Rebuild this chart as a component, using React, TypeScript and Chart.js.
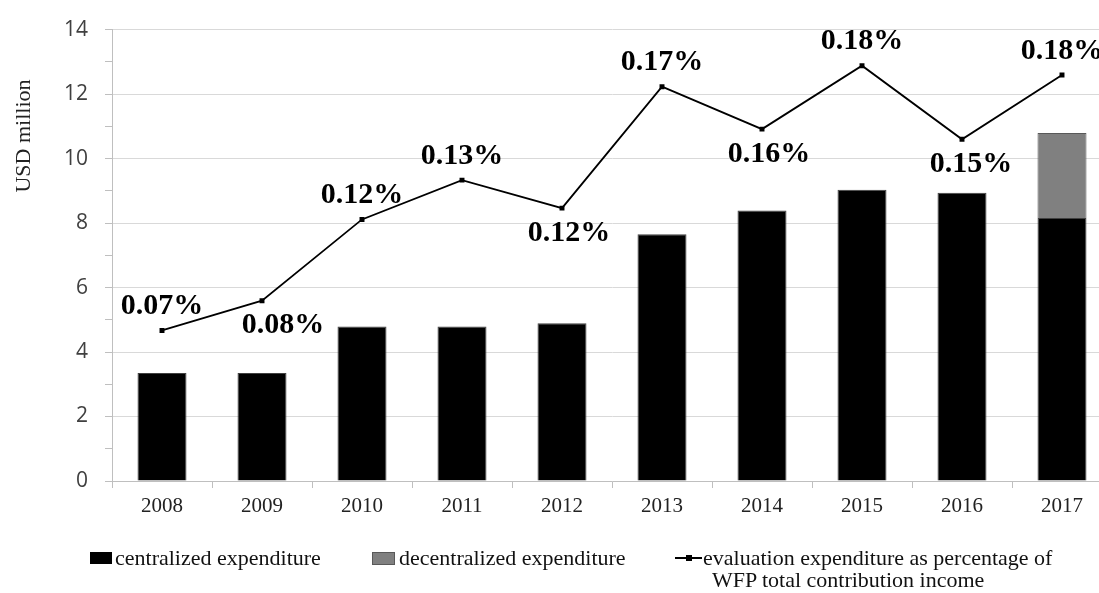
import React, { useEffect, useRef } from "react";
import { Chart, registerables } from "chart.js";

Chart.register(...registerables);

const years = ["2008", "2009", "2010", "2011", "2012", "2013", "2014", "2015", "2016", "2017"];
const centralized = [3.35, 3.35, 4.79, 4.79, 4.89, 7.65, 8.39, 9.03, 8.94, 8.16];
const decentralized = [0, 0, 0, 0, 0, 0, 0, 0, 0, 2.63];
// evaluation expenditure as % of WFP total contribution income
const evalPercent = [0.0667, 0.0799, 0.1159, 0.1333, 0.1209, 0.1747, 0.1559, 0.184, 0.1514, 0.1799];
const yTicks = [0, 2, 4, 6, 8, 10, 12, 14];

// label placement (style only)
const labelBelow = [false, true, false, false, true, false, true, false, true, false];
const labelDx = [0, 21, 0, 0, 7, 0, 7, 0, 9, 0];

const SERIF = "'Liberation Serif', 'Times New Roman', serif";

const pctLabelPlugin = {
  id: "pctLabels",
  afterDatasetsDraw(chart: any) {
    const meta = chart.getDatasetMeta(2);
    const ctx = chart.ctx;
    ctx.save();
    ctx.font = `bold 30px ${SERIF}`;
    ctx.fillStyle = "#000";
    ctx.textAlign = "center";
    ctx.textBaseline = "middle";
    meta.data.forEach((pt: any, i: number) => {
      const txt = evalPercent[i].toFixed(2) + "%";
      const dy = labelBelow[i] ? 25 : -24;
      ctx.fillText(txt, pt.x + labelDx[i], pt.y + dy);
    });
    ctx.restore();
  },
};

const yTitlePlugin = {
  id: "yTitle",
  afterDraw(chart: any) {
    const ctx = chart.ctx;
    ctx.save();
    ctx.translate(24, 136);
    ctx.rotate(-Math.PI / 2);
    ctx.font = `22px ${SERIF}`;
    ctx.fillStyle = "#222";
    ctx.textAlign = "center";
    ctx.textBaseline = "middle";
    ctx.fillText("USD million", 0, 0);
    ctx.restore();
  },
};

export default function App() {
  const ref = useRef<HTMLCanvasElement>(null);

  useEffect(() => {
    if (!ref.current) return;
    const chart = new Chart(ref.current, {
      type: "bar",
      data: {
        labels: years,
        datasets: [
          {
            type: "bar",
            label: "centralized expenditure",
            data: centralized,
            backgroundColor: "#000000",
            borderColor: "#404040",
            borderWidth: 1,
            barPercentage: 0.49,
            categoryPercentage: 1,
            stack: "exp",
            order: 2,
          },
          {
            type: "bar",
            label: "decentralized expenditure",
            data: decentralized,
            backgroundColor: "#808080",
            borderColor: "#595959",
            borderWidth: 1,
            barPercentage: 0.49,
            categoryPercentage: 1,
            stack: "exp",
            order: 2,
          },
          {
            type: "line",
            label: "evaluation expenditure as percentage of WFP total contribution income",
            data: evalPercent,
            yAxisID: "y2",
            borderColor: "#000",
            borderWidth: 1.8,
            pointStyle: "rect",
            pointRadius: 3.5,
            pointBackgroundColor: "#000",
            pointBorderColor: "#000",
            pointBorderWidth: 0,
            tension: 0,
            order: 1,
          } as any,
        ],
      },
      options: {
        animation: false,
        responsive: false,
        layout: { padding: { left: 0, right: 0, top: 24, bottom: 72 } },
        plugins: {
          legend: { display: false },
          tooltip: { enabled: false },
        },
        scales: {
          x: {
            stacked: true,
            offset: true,
            grid: {
              drawOnChartArea: false,
              offset: true,
              tickLength: 7,
              color: "#bfbfbf",
            },
            border: { color: "#bfbfbf" },
            ticks: {
              padding: 6,
              color: "#222",
              font: { family: SERIF, size: 21 },
              maxRotation: 0,
            },
            afterFit(scale: any) {
              scale.height = 40;
            },
          },
          y: {
            stacked: true,
            min: 0,
            max: 14,
            afterBuildTicks(scale: any) {
              const t: any[] = [];
              for (let v = 0; v <= 14; v++) t.push({ value: v });
              scale.ticks = t;
            },
            ticks: {
              stepSize: 1,
              padding: 17,
              color: "#404040",
              font: { family: "'Open Sans', sans-serif", size: 21 },
              callback: (v: any) => (yTicks.includes(Number(v)) ? String(v) : ""),
            },
            grid: {
              tickLength: 7,
              color: (c: any) => (c.tick && c.tick.value % 2 === 0 ? "#d9d9d9" : "rgba(0,0,0,0)"),
              tickColor: "#bfbfbf",
            },
            border: { color: "#bfbfbf" },
            afterFit(scale: any) {
              scale.width = 112;
            },
          },
          y2: {
            display: false,
            min: 0,
            max: 0.2,
          },
        },
      },
      plugins: [pctLabelPlugin, yTitlePlugin],
    } as any);
    return () => chart.destroy();
  }, []);

  const txt: React.CSSProperties = {
    position: "absolute",
    fontFamily: SERIF,
    fontSize: 22,
    lineHeight: "26px",
    color: "#111",
    whiteSpace: "nowrap",
  };

  return (
    <div
      style={{
        position: "fixed",
        left: 0,
        top: 0,
        width: 1099,
        height: 593,
        overflow: "hidden",
        background: "#fff",
      }}
    >
      <canvas ref={ref} width={1116} height={593} style={{ position: "absolute", left: 0, top: 0, display: "block" }} />
      <div style={{ position: "absolute", left: 90, top: 552, width: 22, height: 12, background: "#000" }} />
      <div style={{ ...txt, left: 115, top: 545 }}>centralized expenditure</div>
      <div
        style={{
          position: "absolute",
          left: 372,
          top: 552,
          width: 21,
          height: 11,
          background: "#808080",
          border: "1px solid #595959",
        }}
      />
      <div style={{ ...txt, left: 399, top: 545 }}>decentralized expenditure</div>
      <div style={{ position: "absolute", left: 675, top: 557, width: 27, height: 2, background: "#000" }} />
      <div style={{ position: "absolute", left: 686, top: 555, width: 6, height: 6, background: "#000" }} />
      <div style={{ ...txt, left: 703, top: 545 }}>evaluation expenditure as percentage of</div>
      <div style={{ ...txt, left: 712, top: 567 }}>WFP total contribution income</div>
    </div>
  );
}
